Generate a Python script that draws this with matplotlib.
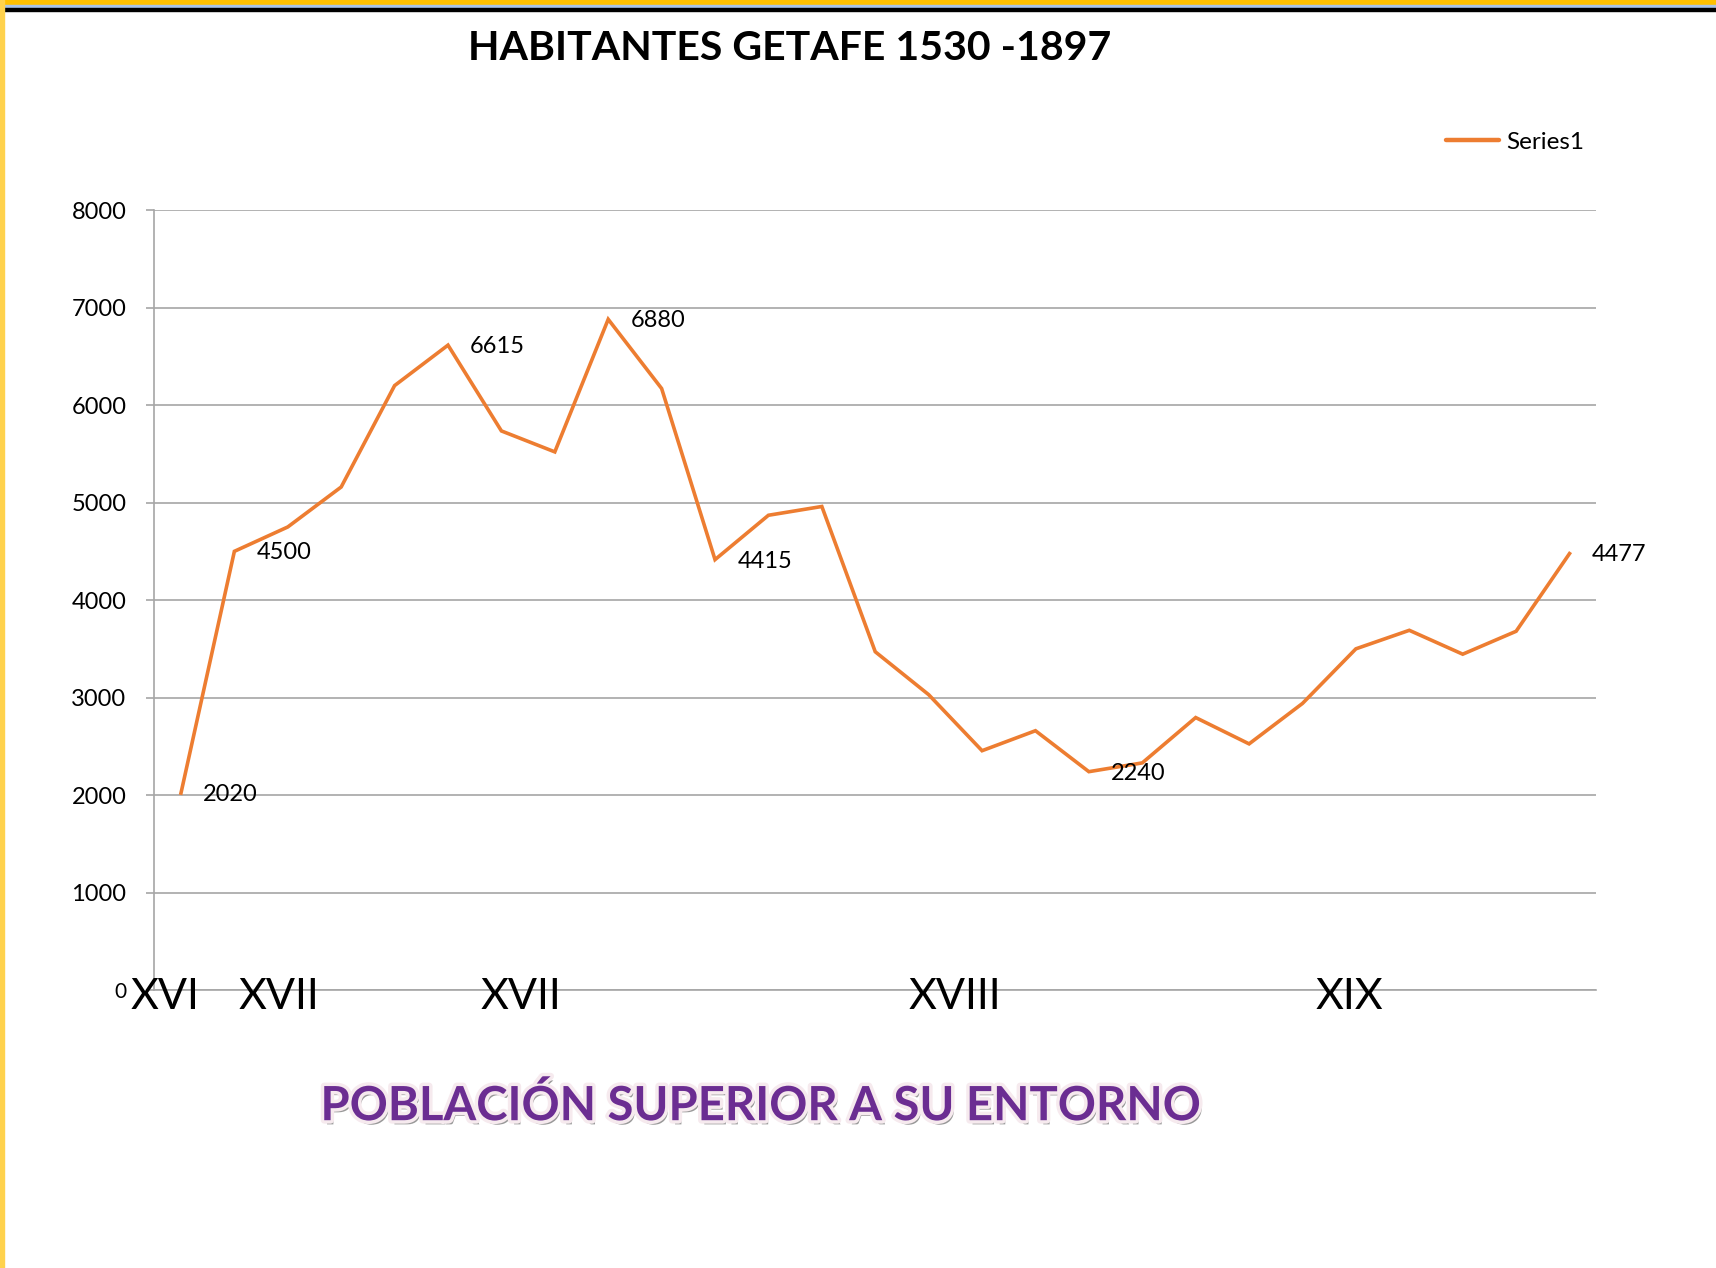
import matplotlib
matplotlib.use("Agg")
import matplotlib.pyplot as plt
import matplotlib.patheffects as pe
from matplotlib.patches import Rectangle

# ---- data ----
VALUES = [2020, 4500, 4750, 5160, 6200, 6615, 5735, 5520, 6880, 6170,
          4415, 4870, 4960, 3470, 3030, 2455, 2660, 2240, 2330, 2795,
          2525, 2940, 3500, 3690, 3445, 3680, 4477]
LABELLED = [0, 1, 5, 8, 10, 17, 26]          # points with a data label
CENTURY_POS = [-0.30, 1.84, 6.36, 14.50, 21.88]
CENTURY_LABELS = ["XVI", "XVII", "XVII", "XVIII", "XIX"]
Y_TICKS = [0, 1000, 2000, 3000, 4000, 5000, 6000, 7000, 8000]

TITLE = "HABITANTES GETAFE 1530 -1897"
FOOTER = "POBLACIÓN SUPERIOR A SU ENTORNO"

ORANGE = "#ed7d31"
GRID = "#a6a6a6"
PURPLE = "#6b2d92"

plt.rcParams["font.family"] = ["Lato", "DejaVu Sans"]

fig = plt.figure(figsize=(17.16, 12.68), dpi=100)
ax = fig.add_axes([0.0899, 0.2192, 0.8403, 0.6151])

x = list(range(len(VALUES)))
line, = ax.plot(x, VALUES, color=ORANGE, lw=2.6, label="Series1",
                solid_joinstyle="miter")

for i in LABELLED:
    ax.annotate(str(VALUES[i]), (x[i], VALUES[i]), xytext=(16, -1),
                textcoords="offset points", ha="left", va="center",
                fontsize=17, color="black")

ax.set_xlim(-0.5, len(VALUES) - 0.5)
ax.set_ylim(0, 8000)
ax.set_yticks(Y_TICKS)
ax.set_yticklabels([str(v) for v in Y_TICKS], fontsize=17)
ax.get_yticklabels()[0].set_fontsize(15)
ax.set_xticks([])
ax.yaxis.grid(True, color=GRID, lw=1.2)
ax.set_axisbelow(True)
for s in ["top", "right"]:
    ax.spines[s].set_visible(False)
ax.spines["left"].set_color(GRID)
ax.spines["left"].set_linewidth(1.2)
ax.spines["bottom"].set_color(GRID)
ax.spines["bottom"].set_linewidth(1.2)
ax.tick_params(axis="y", length=6, width=1.2, color=GRID, pad=14)

# century labels sit on the category axis
for pos, lab in zip(CENTURY_POS, CENTURY_LABELS):
    ax.annotate(lab, (pos, 0), xytext=(0, -5), textcoords="offset points",
                ha="center", va="center", fontsize=31, annotation_clip=False)

leg = ax.legend(handles=[line], loc="center left", frameon=False,
                bbox_to_anchor=(0.896, 1.087), borderaxespad=0, borderpad=0,
                fontsize=17.5, handlelength=2.15, handletextpad=0.3)
leg.get_lines()[0].set_linewidth(3.2)
leg.get_lines()[0].set_solid_capstyle("round")

fig.text(0.46, 0.962, TITLE, ha="center", va="center", fontsize=29.5,
         fontweight="bold")

fig.text(0.4433, 0.128, FOOTER, ha="center", va="center", fontsize=34,
         fontweight="bold", color=PURPLE,
         path_effects=[pe.withSimplePatchShadow(offset=(2, -3),
                                                shadow_rgbFace="#555555",
                                                alpha=0.6),
                       pe.withStroke(linewidth=5, foreground="#f6eaee")])

# frame pieces of the original screenshot
W, H = 1716, 1268
fig.patches.append(Rectangle((0, 1 - 5 / H), 1, 5 / H, transform=fig.transFigure,
                             color="#ffc000", zorder=10))
fig.patches.append(Rectangle((0, 1 - 8 / H), 1, 3 / H, transform=fig.transFigure,
                             color="#aac4e6", zorder=10))
fig.patches.append(Rectangle((3 / W, 1 - 11 / H), 1, 3 / H, transform=fig.transFigure,
                             color="black", zorder=10))
fig.patches.append(Rectangle((0, 0), 3.5 / W, 1, transform=fig.transFigure,
                             color="#ffd24d", zorder=10))

fig.savefig("out.png", dpi=100)
